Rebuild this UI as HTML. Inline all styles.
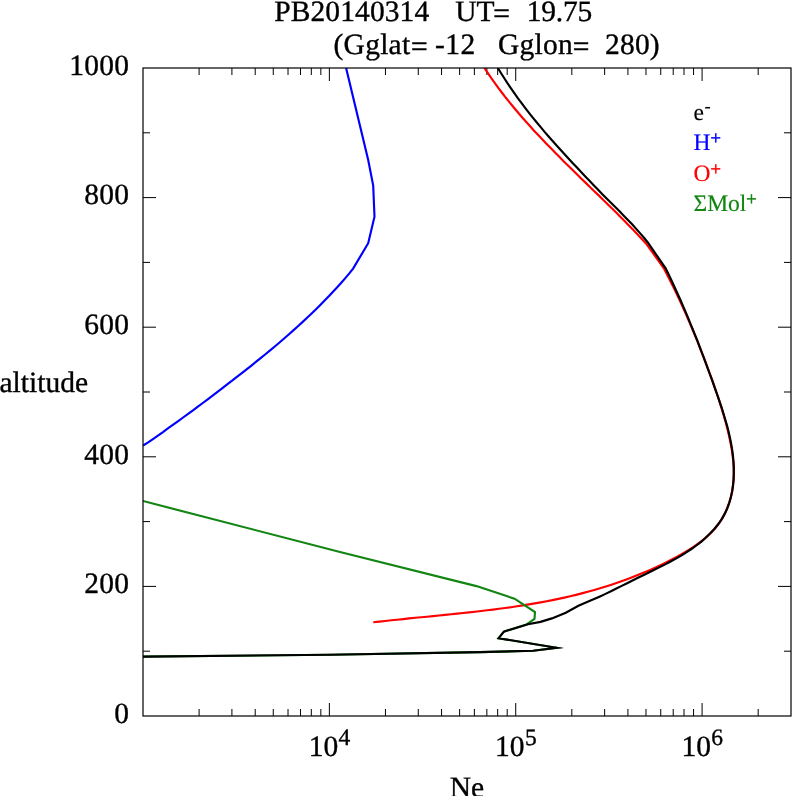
<!DOCTYPE html>
<html><head><meta charset="utf-8"><title>PB20140314 Ne profile</title>
<style>
html,body{margin:0;padding:0;background:#fff;}
body{width:792px;height:796px;overflow:hidden;}
svg{display:block;will-change:transform;}
text{font-family:"Liberation Serif",serif;fill:#000;text-rendering:geometricPrecision;}
</style></head><body>
<svg width="792" height="796" viewBox="0 0 792 796">
<rect x="0" y="0" width="792" height="796" fill="#ffffff"/>
<path d="M143 651.2h7 M791 651.2h-7 M143 586.4h13 M791 586.4h-13 M143 521.6h7 M791 521.6h-7 M143 456.8h13 M791 456.8h-13 M143 392.0h7 M791 392.0h-7 M143 327.2h13 M791 327.2h-13 M143 262.4h7 M791 262.4h-7 M143 197.6h13 M791 197.6h-13 M143 132.8h7 M791 132.8h-7 M199.1 716v-7 M199.1 68v7 M231.92 716v-7 M231.92 68v7 M255.2 716v-7 M255.2 68v7 M273.26 716v-7 M273.26 68v7 M288.02 716v-7 M288.02 68v7 M300.49 716v-7 M300.49 68v7 M311.3 716v-7 M311.3 68v7 M320.83 716v-7 M320.83 68v7 M329.36 716v-13 M329.36 68v13 M385.46 716v-7 M385.46 68v7 M418.28 716v-7 M418.28 68v7 M441.56 716v-7 M441.56 68v7 M459.62 716v-7 M459.62 68v7 M474.38 716v-7 M474.38 68v7 M486.85 716v-7 M486.85 68v7 M497.66 716v-7 M497.66 68v7 M507.19 716v-7 M507.19 68v7 M515.72 716v-13 M515.72 68v13 M571.82 716v-7 M571.82 68v7 M604.64 716v-7 M604.64 68v7 M627.92 716v-7 M627.92 68v7 M645.98 716v-7 M645.98 68v7 M660.74 716v-7 M660.74 68v7 M673.22 716v-7 M673.22 68v7 M684.02 716v-7 M684.02 68v7 M693.56 716v-7 M693.56 68v7 M702.08 716v-13 M702.08 68v13 M758.18 716v-7 M758.18 68v7" stroke="#000" stroke-width="1" fill="none"/>
<clipPath id="c"><rect x="143" y="68" width="648" height="648"/></clipPath>
<g clip-path="url(#c)">
<path d="M346.1 68.0 L368.2 160.0 L373.2 185.6 L374.5 216.7 L368.2 243.2 L353.1 268.6 L349.3 273.4 L345.3 278.1 L341.3 282.7 L337.2 287.3 L333.0 291.8 L328.8 296.2 L324.6 300.6 L320.3 305.0 L316.0 309.3 L311.6 313.5 L307.1 317.7 L302.7 321.9 L298.2 326.0 L293.6 330.1 L289.0 334.2 L284.4 338.2 L279.8 342.2 L275.1 346.2 L270.4 350.1 L265.7 354.0 L260.9 357.9 L256.2 361.7 L251.4 365.6 L246.6 369.4 L241.8 373.2 L236.9 376.9 L232.1 380.7 L227.2 384.4 L222.4 388.2 L217.5 391.9 L212.6 395.6 L207.7 399.3 L202.8 403.0 L197.9 406.6 L193.0 410.3 L188.1 413.9 L183.1 417.5 L178.2 421.1 L173.2 424.7 L168.2 428.2 L163.3 431.8 L158.3 435.3 L153.3 438.8 L148.2 442.3 L143.0 445.5" stroke="#0000ff" stroke-width="2.15" fill="none" stroke-linejoin="miter" stroke-miterlimit="10" stroke-linecap="butt"/>
<path d="M484.4 68.0 L487.9 73.1 L491.3 78.1 L494.9 83.1 L498.5 88.1 L502.2 93.0 L505.9 97.8 L509.8 102.6 L513.6 107.3 L517.6 112.0 L521.6 116.7 L525.6 121.3 L529.7 125.8 L533.8 130.4 L538.0 134.8 L542.2 139.3 L546.4 143.7 L550.7 148.1 L555.0 152.5 L559.3 156.8 L563.6 161.2 L568.0 165.5 L572.3 169.8 L576.7 174.1 L581.1 178.4 L585.5 182.6 L589.9 186.9 L594.3 191.2 L598.7 195.4 L603.1 199.7 L607.4 204.0 L611.8 208.3 L616.2 212.6 L620.5 216.9 L624.8 221.3 L629.1 225.7 L633.4 230.1 L637.6 234.5 L641.8 238.9 L646.0 243.4 L663.7 268.1 L666.5 273.5 L669.2 278.8 L671.9 284.2 L674.6 289.6 L677.2 295.0 L679.7 300.4 L682.2 305.9 L684.7 311.4 L687.1 316.9 L689.5 322.4 L691.9 328.0 L694.2 333.6 L696.5 339.1 L698.7 344.7 L700.9 350.3 L703.1 355.9 L705.3 361.5 L707.4 367.2 L709.5 372.8 L711.6 378.4 L713.6 384.1 L715.6 389.8 L717.5 395.5 L719.4 401.2 L721.2 406.9 L722.9 412.7 L724.6 418.5 L726.2 424.3 L727.7 430.1 L729.1 436.0 L730.3 441.9 L731.5 447.9 L732.4 453.8 L733.1 459.8 L733.6 465.8 L733.8 471.8 L733.7 477.8 L733.2 483.7 L732.4 489.7 L731.2 495.6 L729.6 501.5 L727.6 507.2 L725.2 512.8 L722.4 518.1 L719.2 523.2 L715.6 527.9 L711.6 532.3 L707.2 536.5 L702.6 540.3 L697.8 543.9 L692.8 547.4 L687.6 550.6 L682.4 553.7 L677.2 556.7 L671.8 559.5 L666.5 562.3 L661.0 564.9 L655.6 567.4 L650.1 569.9 L644.6 572.3 L639.0 574.6 L633.4 576.8 L627.8 578.9 L622.1 581.0 L616.4 583.0 L610.7 584.9 L605.0 586.7 L599.2 588.5 L593.4 590.2 L587.7 591.8 L581.8 593.4 L576.0 594.9 L570.2 596.3 L564.3 597.6 L558.4 598.9 L552.6 600.1 L546.7 601.3 L540.7 602.4 L534.8 603.4 L528.9 604.4 L522.9 605.4 L517.0 606.3 L511.0 607.2 L505.1 608.0 L499.1 608.8 L493.1 609.6 L487.1 610.3 L481.1 611.0 L475.1 611.7 L469.1 612.4 L463.1 613.0 L457.1 613.6 L451.1 614.3 L445.1 614.9 L439.1 615.5 L433.1 616.1 L427.1 616.7 L421.1 617.2 L415.1 617.8 L409.2 618.4 L403.2 619.1 L397.2 619.7 L391.2 620.3 L385.3 621.0 L379.3 621.6 L373.3 622.2" stroke="#ff0000" stroke-width="2.15" fill="none" stroke-linejoin="miter" stroke-miterlimit="10" stroke-linecap="butt"/>
<path d="M143.0 501.0 L340.0 552.0 L476.4 586.1 L514.5 598.7 L535.0 612.1 L534.5 618.9 L526.5 624.4 L503.9 631.6 L498.6 638.2 L556.6 647.8 L533.2 650.8 L480.0 652.1 L330.0 654.7 L143.0 656.7" stroke="#128512" stroke-width="2.15" fill="none" stroke-linejoin="miter" stroke-miterlimit="10" stroke-linecap="butt"/>
<path d="M497.9 68.0 L501.1 73.2 L504.3 78.3 L507.6 83.4 L511.0 88.4 L514.5 93.4 L518.0 98.4 L521.6 103.2 L525.3 108.1 L529.0 112.8 L532.8 117.6 L536.6 122.3 L540.5 126.9 L544.4 131.6 L548.4 136.2 L552.4 140.7 L556.4 145.3 L560.5 149.8 L564.6 154.2 L568.7 158.7 L572.8 163.2 L577.0 167.6 L581.1 172.0 L585.3 176.4 L589.5 180.8 L593.7 185.2 L597.9 189.5 L602.1 193.9 L606.4 198.2 L610.7 202.5 L615.0 206.8 L619.3 211.1 L623.5 215.4 L627.7 219.7 L631.9 224.1 L636.0 228.6 L640.0 233.1 L644.0 237.8 L647.8 242.5 L665.5 268.1 L668.2 273.5 L670.8 279.0 L673.4 284.5 L675.9 290.0 L678.4 295.5 L680.9 301.0 L683.3 306.6 L685.7 312.1 L688.0 317.7 L690.3 323.3 L692.6 328.8 L694.8 334.4 L697.1 340.0 L699.2 345.7 L701.4 351.3 L703.5 356.9 L705.6 362.6 L707.7 368.3 L709.8 374.0 L711.9 379.7 L713.9 385.4 L715.9 391.1 L718.0 396.8 L719.9 402.6 L721.9 408.4 L723.7 414.2 L725.4 420.0 L727.1 425.8 L728.6 431.7 L729.9 437.6 L731.1 443.5 L732.1 449.4 L732.9 455.4 L733.5 461.4 L733.8 467.4 L733.8 473.5 L733.6 479.6 L733.0 485.6 L732.1 491.7 L730.8 497.6 L729.1 503.4 L727.0 509.0 L724.4 514.4 L721.4 519.6 L717.9 524.5 L714.1 529.2 L710.0 533.6 L705.6 537.8 L701.1 541.8 L696.3 545.5 L691.4 549.0 L686.3 552.4 L681.2 555.6 L675.9 558.6 L670.6 561.5 L665.2 564.4 L659.7 567.1 L654.3 569.8 L648.8 572.5 L643.3 575.2 L637.9 577.8 L632.5 580.5 L627.1 583.2 L621.7 585.9 L616.4 588.5 L611.0 591.2 L605.5 593.9 L600.0 596.4 L590.0 600.7 L578.4 605.7 L565.8 612.7 L551.9 618.4 L540.5 621.9 L527.9 624.3 L503.9 631.6 L498.6 638.2 L556.6 647.8 L533.2 650.8 L480.0 652.1 L330.0 654.7 L143.0 656.7" stroke="#000000" stroke-width="2.15" fill="none" stroke-linejoin="miter" stroke-miterlimit="10" stroke-linecap="butt"/>
</g>
<rect x="143.0" y="68.0" width="648.0" height="648.0" fill="none" stroke="#000" stroke-width="1.2"/>
<text transform="translate(274.20 20.50) scale(1.0000 1)" font-size="29.50px" letter-spacing="0.1" style="fill:#000000;stroke:#000000;stroke-width:0.35px">PB20140314</text>
<text transform="translate(455.30 20.50) scale(1.0000 1)" font-size="29.50px" style="fill:#000000;stroke:#000000;stroke-width:0.35px">UT</text>
<text transform="translate(526.80 20.50) scale(1.0000 1)" font-size="29.50px" letter-spacing="-0.25" style="fill:#000000;stroke:#000000;stroke-width:0.35px">19.75</text>
<text transform="translate(333.50 54.20) scale(1.0000 1)" font-size="29.50px" letter-spacing="0.25" style="fill:#000000;stroke:#000000;stroke-width:0.35px">(Gglat</text>
<text transform="translate(435.00 54.20) scale(1.0000 1)" font-size="29.50px" letter-spacing="0.5" style="fill:#000000;stroke:#000000;stroke-width:0.35px">-12</text>
<text transform="translate(497.90 54.20) scale(1.0000 1)" font-size="29.50px" letter-spacing="0.3" style="fill:#000000;stroke:#000000;stroke-width:0.35px">Gglon</text>
<text x="493.20" y="22.70" font-size="29.5px" style="stroke:#000;stroke-width:0.5px">=</text>
<text x="411.10" y="56.40" font-size="29.5px" style="stroke:#000;stroke-width:0.5px">=</text>
<text x="572.80" y="56.40" font-size="29.5px" style="stroke:#000;stroke-width:0.5px">=</text>
<text transform="translate(605.00 54.20) scale(1.0000 1)" font-size="29.50px" letter-spacing="0.2" style="fill:#000000;stroke:#000000;stroke-width:0.35px">280)</text>
<text transform="translate(129.40 722.80) scale(1.0000 1)" font-size="29.50px" text-anchor="end" letter-spacing="0.3" style="fill:#000000;stroke:#000000;stroke-width:0.35px">0</text>
<text transform="translate(129.40 593.20) scale(1.0000 1)" font-size="29.50px" text-anchor="end" letter-spacing="0.3" style="fill:#000000;stroke:#000000;stroke-width:0.35px">200</text>
<text transform="translate(129.40 463.60) scale(1.0000 1)" font-size="29.50px" text-anchor="end" letter-spacing="0.3" style="fill:#000000;stroke:#000000;stroke-width:0.35px">400</text>
<text transform="translate(129.40 334.00) scale(1.0000 1)" font-size="29.50px" text-anchor="end" letter-spacing="0.3" style="fill:#000000;stroke:#000000;stroke-width:0.35px">600</text>
<text transform="translate(129.40 204.40) scale(1.0000 1)" font-size="29.50px" text-anchor="end" letter-spacing="0.3" style="fill:#000000;stroke:#000000;stroke-width:0.35px">800</text>
<text transform="translate(129.40 74.80) scale(1.0000 1)" font-size="29.50px" text-anchor="end" letter-spacing="0.3" style="fill:#000000;stroke:#000000;stroke-width:0.35px">1000</text>
<text transform="translate(-0.50 391.50) scale(1.0000 1)" font-size="29.50px" style="fill:#000000;stroke:#000000;stroke-width:0.35px">altitude</text>
<text transform="translate(449.70 797.00) scale(1.0000 1)" font-size="29.50px" style="fill:#000000;stroke:#000000;stroke-width:0.35px">Ne</text>
<text transform="translate(308.76 756.10) scale(1.0000 1)" font-size="29.50px" style="fill:#000000;stroke:#000000;stroke-width:0.35px">10<tspan font-size="23.50px" dx="0.30" dy="-11.2">4</tspan></text>
<text transform="translate(495.12 756.10) scale(1.0000 1)" font-size="29.50px" style="fill:#000000;stroke:#000000;stroke-width:0.35px">10<tspan font-size="23.50px" dx="0.30" dy="-11.2">5</tspan></text>
<text transform="translate(681.48 756.10) scale(1.0000 1)" font-size="29.50px" style="fill:#000000;stroke:#000000;stroke-width:0.35px">10<tspan font-size="23.50px" dx="0.30" dy="-11.2">6</tspan></text>
<text transform="translate(693.50 119.50) scale(1.0000 1)" font-size="23.50px" style="fill:#000000;stroke:#000000;stroke-width:0.15px">e<tspan font-size="18.50px" dx="0.50" dy="-7.6" style="stroke-width:0.1px">-</tspan></text>
<text transform="translate(693.50 149.90) scale(1.0000 1)" font-size="23.50px" style="fill:#0000ff;stroke:#0000ff;stroke-width:0.15px">H<tspan font-size="18.50px" dx="-0.10" dy="-5.8" style="stroke-width:0.55px">+</tspan></text>
<text transform="translate(693.50 180.50) scale(1.0000 1)" font-size="23.50px" style="fill:#ff0000;stroke:#ff0000;stroke-width:0.15px">O<tspan font-size="18.50px" dx="-0.10" dy="-5.8" style="stroke-width:0.55px">+</tspan></text>
<text transform="translate(693.50 210.80) scale(1.0000 1)" font-size="23.50px" style="fill:#128512;stroke:#128512;stroke-width:0.15px">ΣMol<tspan font-size="18.50px" dx="-0.10" dy="-5.8" style="stroke-width:0.55px">+</tspan></text>
</svg>
</body></html>
